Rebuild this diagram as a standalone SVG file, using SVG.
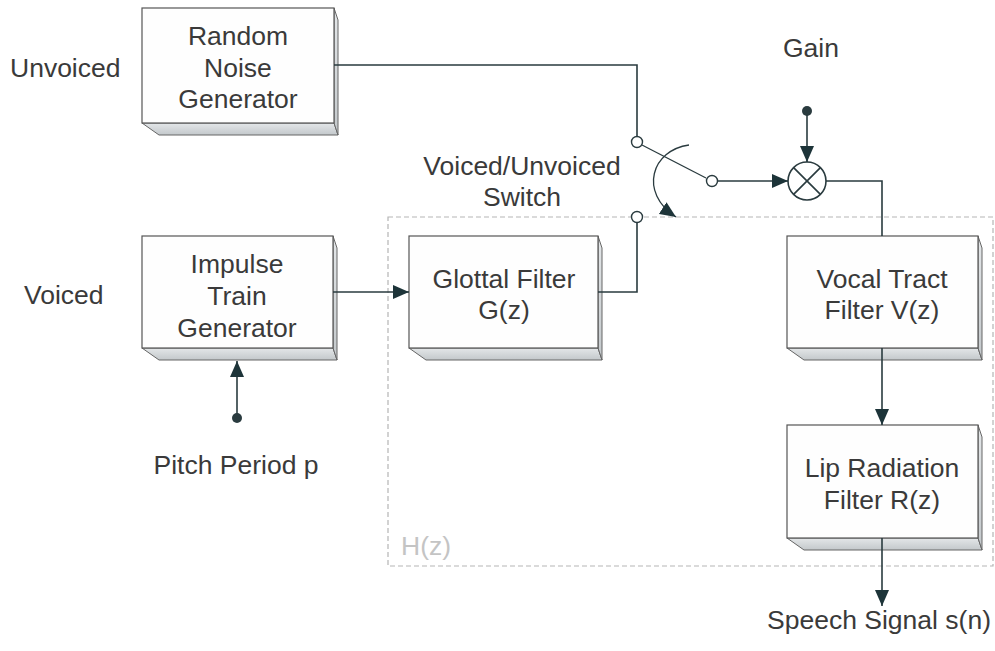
<svg xmlns="http://www.w3.org/2000/svg" width="995" height="651" viewBox="0 0 995 651">
  <defs>
    <marker id="arrow" viewBox="0 0 16 14" refX="16" refY="7" markerWidth="16" markerHeight="14" markerUnits="userSpaceOnUse" orient="auto">
      <path d="M0,0 L16,7 L0,14 z" fill="#1d3439"/>
    </marker>
    <linearGradient id="shade" x1="0" y1="0" x2="0" y2="1">
      <stop offset="0" stop-color="#e4e7e9"/>
      <stop offset="1" stop-color="#c3c8cb"/>
    </linearGradient>
  </defs>
  <style>
    text { font-family: "Liberation Sans", Arial, sans-serif; font-size: 26.5px; fill: #3a3a3a; }
    .mid { text-anchor: middle; }
    .front { fill: #fefefe; stroke: #555; stroke-width: 1.2; }
    .side { fill: url(#shade); stroke: #666; stroke-width: 1; }
    .wire { fill: none; stroke: #2a3b3f; stroke-width: 1.6; }
    .contact { fill: #fff; stroke: #2a3b3f; stroke-width: 1.4; }
    .dot { fill: #2a3b3f; }
    .region { fill: none; stroke: #b5b5b5; stroke-width: 1.2; stroke-dasharray: 5 3; }
  </style>

  <rect id="bg" x="0" y="0" width="995" height="651" fill="#fff"/>

  <!-- H(z) region -->
  <g id="hz-region">
    <rect class="region" x="388" y="217" width="605" height="349"/>
    <text x="401" y="555" style="fill:#c4c4c4">H(z)</text>
  </g>

  <!-- free labels -->
  <g id="labels">
    <text x="10" y="77">Unvoiced</text>
    <text x="24" y="304">Voiced</text>
    <text class="mid" x="811" y="57">Gain</text>
    <text class="mid" x="522" y="175">Voiced/Unvoiced</text>
    <text class="mid" x="522" y="206">Switch</text>
    <text class="mid" x="236" y="474">Pitch Period p</text>
    <text class="mid" x="879" y="629">Speech Signal s(n)</text>
  </g>

  <!-- Random noise generator -->
  <g id="noise-gen">
    <polygon class="side" points="142,123 334,123 338,135 159,135"/>
    <polygon class="side" points="334,8 338,20 338,135 334,123"/>
    <rect class="front" x="142" y="8" width="192" height="115"/>
    <text class="mid" x="238" y="45">Random</text>
    <text class="mid" x="238" y="77">Noise</text>
    <text class="mid" x="238" y="108">Generator</text>
  </g>

  <!-- Impulse train generator -->
  <g id="impulse-gen">
    <polygon class="side" points="142,348 333,348 337,360 159,360"/>
    <polygon class="side" points="333,236 337,248 337,360 333,348"/>
    <rect class="front" x="142" y="236" width="191" height="112"/>
    <text class="mid" x="237" y="273">Impulse</text>
    <text class="mid" x="237" y="305">Train</text>
    <text class="mid" x="237" y="337">Generator</text>
  </g>

  <!-- Glottal filter -->
  <g id="glottal">
    <polygon class="side" points="409,348 598,348 602,360 426,360"/>
    <polygon class="side" points="598,236 602,248 602,360 598,348"/>
    <rect class="front" x="409" y="236" width="189" height="112"/>
    <text class="mid" x="504" y="288">Glottal Filter</text>
    <text class="mid" x="504" y="319">G(z)</text>
  </g>

  <!-- Vocal tract filter -->
  <g id="vocal-tract">
    <polygon class="side" points="787,348 978,348 982,360 804,360"/>
    <polygon class="side" points="978,236 982,248 982,360 978,348"/>
    <rect class="front" x="787" y="236" width="191" height="112"/>
    <text class="mid" x="882" y="288">Vocal Tract</text>
    <text class="mid" x="882" y="319">Filter V(z)</text>
  </g>

  <!-- Lip radiation filter -->
  <g id="lip-radiation">
    <polygon class="side" points="787,538 978,538 982,550 804,550"/>
    <polygon class="side" points="978,425 982,437 982,550 978,538"/>
    <rect class="front" x="787" y="425" width="191" height="113"/>
    <text class="mid" x="882" y="477">Lip Radiation</text>
    <text class="mid" x="882" y="509">Filter R(z)</text>
  </g>

  <!-- Multiplier -->
  <g id="multiplier">
    <circle cx="807" cy="181" r="19" fill="#fff" stroke="#2a3b3f" stroke-width="1.6"/>
    <path class="wire" d="M793.6,167.6 L820.4,194.4 M820.4,167.6 L793.6,194.4"/>
  </g>

  <!-- Connectors -->
  <g id="connectors">
    <!-- noise to upper switch contact -->
    <path class="wire" d="M334,65 H637 V136"/>
    <!-- glottal to lower switch contact -->
    <path class="wire" d="M598,292 H637 V223"/>
    <!-- switch arm -->
    <path class="wire" d="M642,145 L706,178" style="stroke-width:1.3"/>
    <!-- switching direction arc -->
    <path class="wire" d="M689,145 C652,150 638,192 676,217" style="stroke-width:1.3" marker-end="url(#arrow)"/>
    <!-- switch output to multiplier -->
    <path class="wire" d="M717,181 H788" marker-end="url(#arrow)"/>
    <!-- gain to multiplier -->
    <path class="wire" d="M807,111 V162" marker-end="url(#arrow)"/>
    <!-- multiplier to vocal tract -->
    <path class="wire" d="M826,181 H882 V236"/>
    <!-- vocal tract to lip radiation -->
    <path class="wire" d="M882,348 V425" marker-end="url(#arrow)"/>
    <!-- lip radiation to output -->
    <path class="wire" d="M882,538 V606" marker-end="url(#arrow)"/>
    <!-- impulse to glottal -->
    <path class="wire" d="M333,292 H409" marker-end="url(#arrow)"/>
    <!-- pitch period to impulse -->
    <path class="wire" d="M237,418 V361" marker-end="url(#arrow)"/>

    <circle class="contact" cx="637" cy="142" r="5.5"/>
    <circle class="contact" cx="637" cy="217" r="5.5"/>
    <circle class="contact" cx="712" cy="181" r="5.5"/>
    <circle class="dot" cx="807" cy="111" r="5"/>
    <circle class="dot" cx="237" cy="418" r="5"/>
  </g>
</svg>
